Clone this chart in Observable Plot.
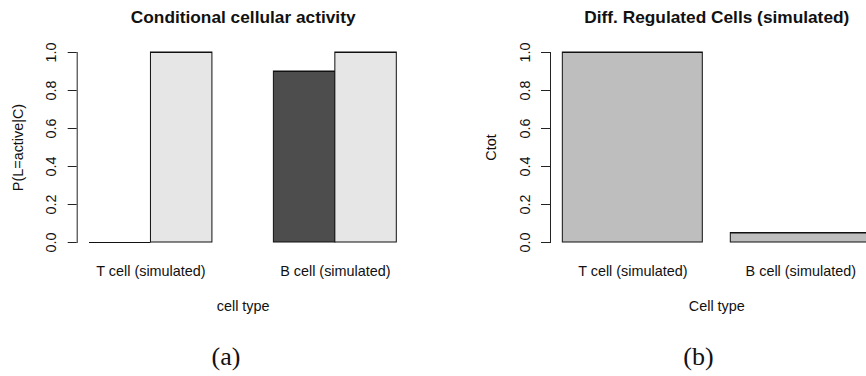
<!DOCTYPE html>
<html>
<head>
<meta charset="utf-8">
<script src="https://cdn.jsdelivr.net/npm/d3@7"></script>
<script src="https://cdn.jsdelivr.net/npm/@observablehq/plot@0.6"></script>
<style>
  html, body { margin: 0; padding: 0; background: white; overflow: hidden; }
  #wrap { position: relative; width: 866px; height: 376px; overflow: hidden; background: white; }
  .panel { position: absolute; top: 0; }
  .cap { position: absolute; width: 200px; text-align: center; font-family: "Liberation Serif", "DejaVu Serif", serif; font-size: 26px; line-height: 26px; color: #111; }
</style>
</head>
<body>
<div id="wrap"></div>
<script>
// ---- data ----
const cellTypes = ["T cell (simulated)", "B cell (simulated)"];
const activityState1 = [0, 0.9];   // dark bars
const activityState2 = [1, 1];     // light bars
const ctot = [1, 0.05];
const yTicks = [0, 0.2, 0.4, 0.6, 0.8, 1.0];
const leftFills = ["#4d4d4d", "#e6e6e6"];
const rightFill = "#bebebe";
const titleA = "Conditional cellular activity";
const titleB = "Diff. Regulated Cells (simulated)";
const yLabelA = "P(L=active|C)";
const yLabelB = "Ctot";
const xLabelA = "cell type";
const xLabelB = "Cell type";
const captions = ["(a)", "(b)"];

// ---- barplot layout (R barplot rule: width 1, space) ----
const seriesLeft = [activityState1, activityState2];
const rowsL = cellTypes.flatMap((cell, i) => seriesLeft.map((s, j) => {
  const x1 = 1 + i * (seriesLeft.length + 1) + j;
  return {cell, series: j, value: s[i], x1, x2: x1 + 1};
}));
const groupsL = cellTypes.map((cell, i) => {
  const r = rowsL.filter(d => d.cell === cell);
  return {cell, center: (d3.min(r, d => d.x1) + d3.max(r, d => d.x2)) / 2};
});
const rowsR = cellTypes.map((cell, i) => {
  const x1 = 0.2 + i * 1.2;
  return {cell, value: ctot[i], x1, x2: x1 + 1, center: x1 + 0.5};
});
function padDomain(rows) {
  const lo = d3.min(rows, d => d.x1), hi = d3.max(rows, d => d.x2);
  const p = 0.04 * (hi - lo);
  return [lo - p, hi + p];
}

const font = "'Liberation Sans', Arial, Helvetica, sans-serif";
const fs = 14.4;
const ink = "#111";

function panel({rows, groups, fill, width, marginLeft, marginRight, title, yLabel, xLabel}) {
  return Plot.plot({
    width, height: 330,
    marginLeft, marginRight, marginTop: 52, marginBottom: 88,
    x: {type: "linear", domain: padDomain(rows), axis: null},
    y: {domain: [0, 1], axis: null},
    style: {fontFamily: font, background: "white", color: ink, overflow: "visible"},
    marks: [
      Plot.rectY(rows, {x1: "x1", x2: "x2", y1: 0, y2: "value", fill, stroke: ink, strokeWidth: 1}),
      Plot.ruleY(rows, {x1: "x1", x2: "x2", y: "value", stroke: ink, strokeWidth: 1}),
      Plot.frame({anchor: "left", stroke: "#222"}),
      Plot.axisY({ticks: yTicks, tickSize: 9, tickPadding: 12, tickRotate: -90, tickFormat: ".1f",
                  fontSize: fs, label: null, stroke: "#222"}),
      Plot.text([yLabel], {frameAnchor: "left", dx: -54.5, rotate: -90, lineAnchor: "bottom",
                           textAnchor: "middle", fontSize: fs, text: d => d}),
      Plot.text(groups, {x: "center", frameAnchor: "bottom", dy: 33, lineAnchor: "bottom",
                         textAnchor: "middle", fontSize: fs, text: "cell"}),
      Plot.text([xLabel], {frameAnchor: "bottom", dy: 68, lineAnchor: "bottom", fontSize: fs, text: d => d}),
      Plot.text([title], {frameAnchor: "top", dy: -29.3, lineAnchor: "bottom", fontSize: 17.3,
                          fontWeight: "bold", text: d => d})
    ]
  });
}

const wrap = document.getElementById("wrap");

const left = panel({
  rows: rowsL, groups: groupsL, fill: d => leftFills[d.series],
  width: 433, marginLeft: 76.7, marginRight: 24.4,
  title: titleA, yLabel: yLabelA, xLabel: xLabelA
});
left.classList.add("panel");
left.style.left = "0px";
wrap.appendChild(left);

const right = panel({
  rows: rowsR, groups: rowsR, fill: rightFill,
  width: 460, marginLeft: 117, marginRight: 10.4,
  title: titleB, yLabel: yLabelB, xLabel: xLabelB
});
right.classList.add("panel");
right.style.left = "433px";
wrap.appendChild(right);

const capX = [226, 698.5];
captions.forEach((c, i) => {
  const d = document.createElement("div");
  d.className = "cap";
  d.textContent = c;
  d.style.left = (capX[i] - 100) + "px";
  d.style.top = "344px";
  wrap.appendChild(d);
});
</script>
</body>
</html>
